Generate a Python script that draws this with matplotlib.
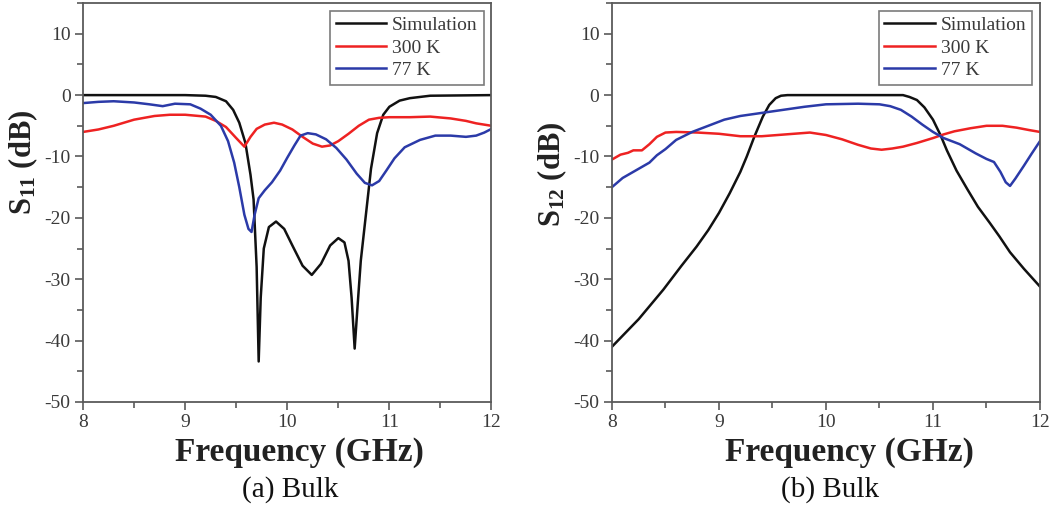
import matplotlib
matplotlib.use("Agg")
import matplotlib.pyplot as plt
from matplotlib.ticker import MultipleLocator

plt.rcParams['font.family'] = ['Liberation Serif', 'DejaVu Serif']
plt.rcParams['mathtext.fontset'] = 'custom'
plt.rcParams['mathtext.rm'] = 'Liberation Serif'
plt.rcParams['mathtext.bf'] = 'Liberation Serif:bold'
plt.rcParams['axes.unicode_minus'] = False

# ---- (a) S11 ----
s11_sim_f = [8.0, 8.5, 9.0, 9.2, 9.3, 9.4, 9.47, 9.53, 9.59, 9.64, 9.67, 9.7, 9.72, 9.74, 9.77,
             9.82, 9.89, 9.97, 10.05, 10.15, 10.24, 10.33, 10.42, 10.5, 10.56, 10.6, 10.63, 10.66,
             10.69, 10.72, 10.75, 10.78, 10.82, 10.88, 10.94, 11.0, 11.1, 11.2, 11.4, 12.0]
s11_sim_db = [0, 0, 0, -0.1, -0.3, -1.0, -2.4, -4.5, -7.8, -13, -17, -28, -43.4, -33, -25,
              -21.5, -20.6, -21.8, -24.5, -27.8, -29.3, -27.5, -24.5, -23.3, -24, -27, -33, -41.3,
              -34, -27, -22.5, -18, -12, -6.2, -3.2, -1.9, -0.9, -0.5, -0.1, 0]

s11_300_f = [8.0, 8.15, 8.3, 8.5, 8.7, 8.85, 9.0, 9.2, 9.3, 9.4, 9.5, 9.58, 9.64, 9.7, 9.78, 9.87,
             9.95, 10.05, 10.15, 10.25, 10.34, 10.42, 10.5, 10.6, 10.7, 10.8, 10.9, 11.0, 11.2,
             11.4, 11.6, 11.75, 11.85, 12.0]
s11_300_db = [-6.0, -5.6, -5.0, -4.0, -3.4, -3.2, -3.2, -3.5, -4.2, -5.2, -7.0, -8.4, -6.8, -5.5,
              -4.8, -4.5, -4.8, -5.6, -6.8, -7.9, -8.4, -8.2, -7.5, -6.3, -5.0, -4.0, -3.7, -3.6,
              -3.6, -3.5, -3.8, -4.2, -4.6, -5.0]

s11_77_f = [8.0, 8.15, 8.3, 8.5, 8.65, 8.78, 8.9, 9.05, 9.15, 9.25, 9.35, 9.42, 9.48, 9.53, 9.58,
            9.62, 9.65, 9.68, 9.72, 9.78, 9.85, 9.93, 10.0, 10.07, 10.13, 10.2, 10.28, 10.38,
            10.48, 10.58, 10.68, 10.76, 10.83, 10.9, 10.97, 11.05, 11.15, 11.3, 11.45, 11.6,
            11.75, 11.85, 11.93, 12.0]
s11_77_db = [-1.3, -1.1, -1.0, -1.2, -1.5, -1.8, -1.4, -1.5, -2.2, -3.2, -5.0, -7.5, -11, -15,
             -19.5, -21.8, -22.3, -19.5, -16.8, -15.5, -14.2, -12.3, -10.2, -8.2, -6.6, -6.2, -6.4,
             -7.2, -8.6, -10.5, -12.8, -14.3, -14.7, -14.0, -12.3, -10.3, -8.5, -7.3, -6.6, -6.6,
             -6.8, -6.6, -6.1, -5.5]

# ---- (b) S12 ----
s12_sim_f = [8.0, 8.25, 8.48, 8.65, 8.79, 8.9, 9.0, 9.1, 9.2, 9.26, 9.33, 9.41, 9.47, 9.53,
             9.58, 9.64, 10.0, 10.4, 10.72, 10.78, 10.85, 10.92, 11.0, 11.07, 11.13, 11.22,
             11.32, 11.42, 11.53, 11.62, 11.72, 11.85, 12.0]
s12_sim_db = [-41, -36.5, -31.7, -27.8, -24.7, -22.0, -19.2, -16.0, -12.5, -10, -6.8, -3.5, -1.6,
              -0.5, -0.1, 0, 0, 0, 0, -0.3, -0.8, -2.0, -4.0, -6.5, -9.0, -12.3, -15.3, -18.2,
              -20.8, -23.0, -25.6, -28.3, -31.2]

s12_300_f = [8.0, 8.08, 8.15, 8.2, 8.28, 8.35, 8.42, 8.5, 8.6, 8.8, 9.0, 9.2, 9.4, 9.55, 9.7,
             9.85, 10.0, 10.15, 10.3, 10.42, 10.52, 10.62, 10.72, 10.85, 11.0, 11.1, 11.2, 11.35,
             11.5, 11.65, 11.78, 11.9, 12.0]
s12_300_db = [-10.5, -9.7, -9.4, -9.0, -9.0, -8.0, -6.8, -6.1, -6.0, -6.1, -6.3, -6.7, -6.7,
              -6.5, -6.3, -6.1, -6.5, -7.2, -8.1, -8.7, -8.9, -8.7, -8.4, -7.8, -7.0, -6.4, -5.9,
              -5.4, -5.0, -5.0, -5.3, -5.7, -6.0]

s12_77_f = [8.0, 8.1, 8.25, 8.35, 8.42, 8.5, 8.6, 8.75, 8.9, 9.05, 9.2, 9.4, 9.6, 9.8, 10.0,
            10.3, 10.5, 10.6, 10.7, 10.8, 10.9, 11.0, 11.1, 11.25, 11.4, 11.5, 11.57, 11.63,
            11.68, 11.72, 11.77, 11.85, 11.92, 12.0]
s12_77_db = [-15.0, -13.5, -12.0, -11.0, -9.8, -8.8, -7.3, -6.0, -5.0, -4.0, -3.4, -2.9, -2.4,
             -1.9, -1.5, -1.4, -1.5, -1.8, -2.4, -3.5, -4.8, -6.0, -7.0, -8.0, -9.5, -10.4,
             -10.9, -12.5, -14.2, -14.8, -13.6, -11.5, -9.6, -7.5]

black = '#111111'
red = '#ee2222'
blue = '#2b3aa8'
axcol = '#5a5a5a'

fig = plt.figure(figsize=(10.54, 5.08), dpi=100)

# rect, data, subscript, caption, caption x, xlabel x, ylabel y
panels = [
    ([0.0788, 0.2087, 0.3875, 0.7853], s11_sim_f, s11_sim_db, s11_300_f, s11_300_db,
     s11_77_f, s11_77_db, '11', '(a) Bulk', 0.275, 0.53, 0.60),
    ([0.5806, 0.2087, 0.4061, 0.7853], s12_sim_f, s12_sim_db, s12_300_f, s12_300_db,
     s12_77_f, s12_77_db, '12', '(b) Bulk', 0.7875, 0.555, 0.57),
]

for rect, sf, sd, rf, rd, bf, bd, sub, cap, capx, xlx, yly in panels:
    ax = fig.add_axes(rect)
    ax.plot(sf, sd, color=black, lw=1.8, label='Simulation')
    ax.plot(rf, rd, color=red, lw=1.8, label='300 K')
    ax.plot(bf, bd, color=blue, lw=1.8, label='77 K')
    ax.set_xlim(8, 12)
    ax.set_ylim(-50, 15)
    ax.xaxis.set_major_locator(MultipleLocator(1))
    ax.xaxis.set_minor_locator(MultipleLocator(0.5))
    ax.yaxis.set_major_locator(MultipleLocator(10))
    ax.yaxis.set_minor_locator(MultipleLocator(5))
    ax.tick_params(which='both', direction='out', colors=axcol, labelcolor='#3a3a3a',
                   labelsize=14, width=1.2)
    ax.tick_params(which='major', length=6)
    ax.tick_params(which='minor', length=4)
    ax.tick_params(axis='x', pad=3)
    ax.tick_params(axis='y', pad=3)
    for s in ax.spines.values():
        s.set_color(axcol)
        s.set_linewidth(1.3)
    ax.set_xlabel('Frequency (GHz)', fontsize=24, fontweight='bold', color='#222222', labelpad=4)
    ax.xaxis.label.set_x(xlx)
    ax.set_ylabel(r'$\mathbf{S_{%s}}$ (dB)' % sub, fontsize=22, fontweight='bold',
                  color='#222222', labelpad=3)
    ax.yaxis.label.set_y(yly)
    leg = ax.legend(loc='upper right', fontsize=14, frameon=True, fancybox=False,
                    handlelength=2.6, borderaxespad=0.4, labelspacing=0.25,
                    handletextpad=0.3, borderpad=0.3)
    leg.get_frame().set_edgecolor(axcol)
    leg.get_frame().set_linewidth(1.2)
    for t in leg.get_texts():
        t.set_color('#3a3a3a')
    fig.text(capx, 1 - 490 / 508, cap, ha='center', va='center',
             fontsize=21, color='#111111')

fig.savefig('out.png', dpi=100)
